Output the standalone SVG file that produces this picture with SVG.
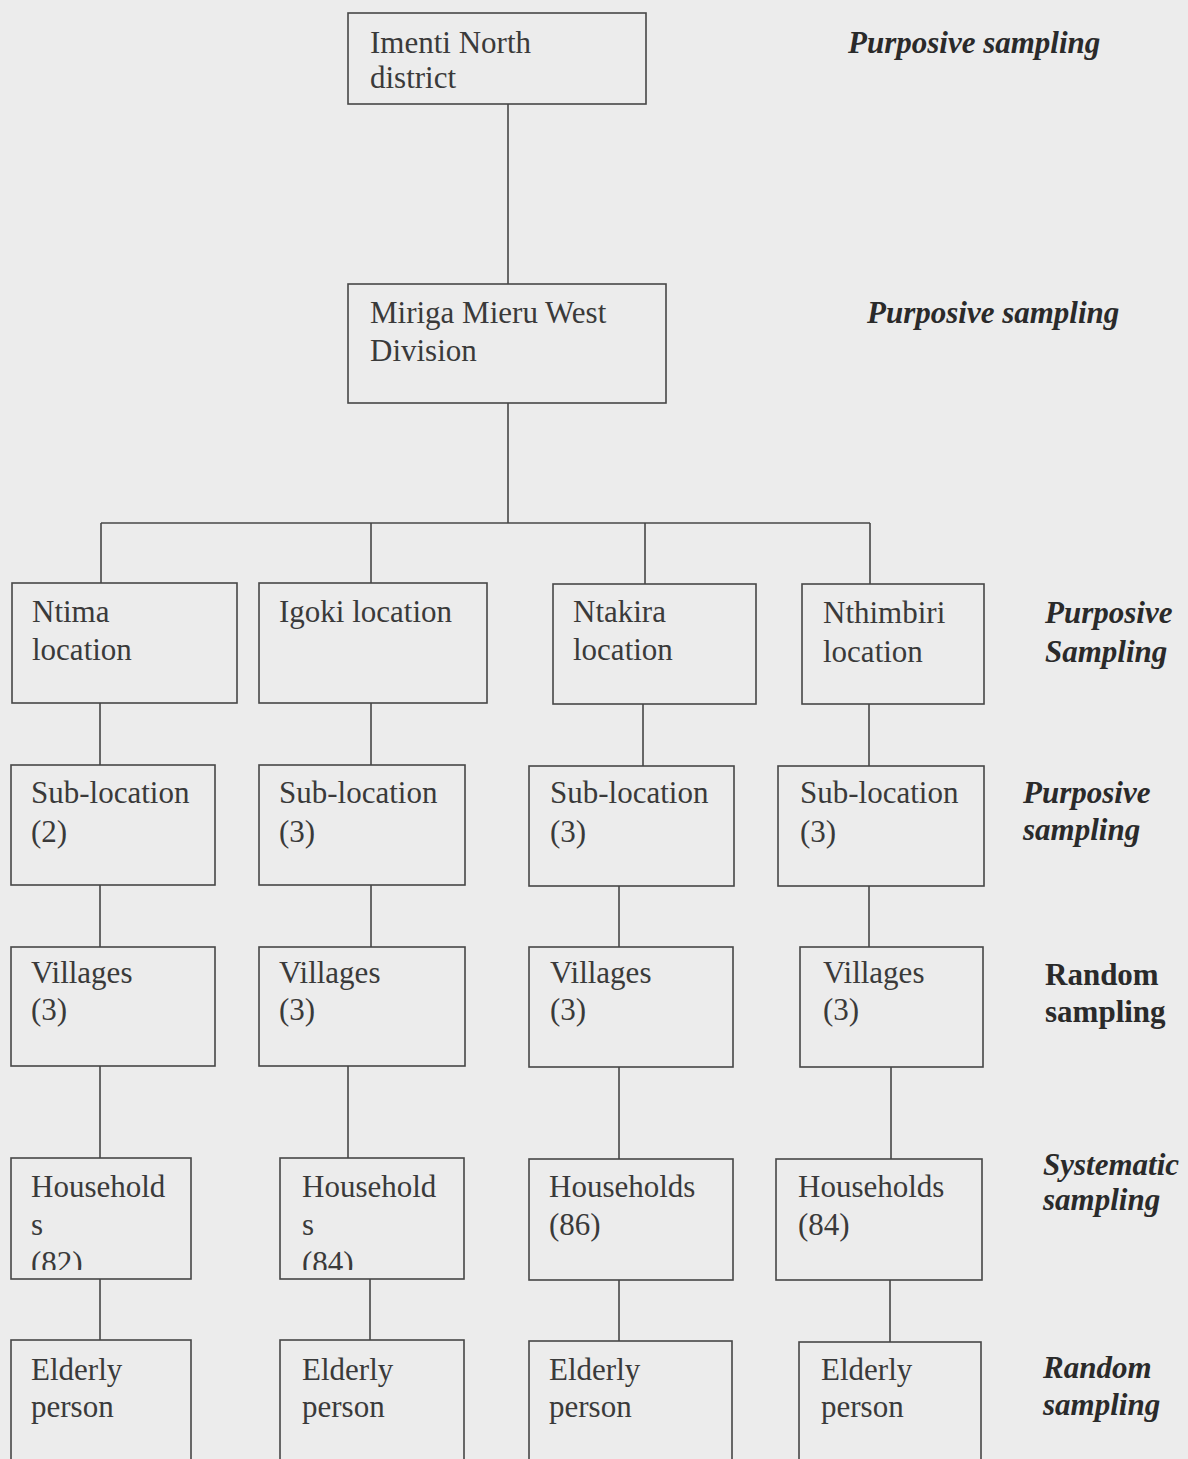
<svg xmlns="http://www.w3.org/2000/svg" width="1188" height="1459" viewBox="0 0 1188 1459">
<style>
.box{fill:none;stroke:#474747;stroke-width:1.6}
.t{font-family:"Liberation Serif","Times New Roman",serif;font-size:31px;fill:#3a3a3a}
.lbl{font-family:"Liberation Serif","Times New Roman",serif;font-size:31px;font-weight:bold;font-style:italic;fill:#2a2a2a}
.lblr{font-family:"Liberation Serif","Times New Roman",serif;font-size:31px;font-weight:bold;fill:#2a2a2a}
.c{stroke:#474747;stroke-width:1.6;fill:none}
</style>
<defs>
<clipPath id="clipF1"><rect x="11" y="1158" width="180" height="112"/></clipPath>
<clipPath id="clipF2"><rect x="280" y="1158" width="184" height="112"/></clipPath>
</defs>
<rect x="0" y="0" width="1188" height="1459" fill="#ececec"/>

<g id="connectors">
<path class="c" d="M508 104V284M508 403V523M101 523H870M101 523V583M371 523V583M645 523V584M870 523V584"/>
<path class="c" d="M100 703V765M371 703V765M643 704V766M869 704V766"/>
<path class="c" d="M100 885V947M371 885V947M619 886V947M869 886V947"/>
<path class="c" d="M100 1066V1158M348 1066V1158M619 1067V1159M891 1067V1159"/>
<path class="c" d="M100 1279V1340M370 1279V1340M619 1280V1341M890 1280V1342"/>
</g>

<g id="imenti"><rect class="box" x="348" y="13" width="298" height="91"/><text class="t" x="370" y="53">Imenti North</text><text class="t" x="370" y="88">district</text></g>
<g id="miriga"><rect class="box" x="348" y="284" width="318" height="119"/><text class="t" x="370" y="323">Miriga Mieru West</text><text class="t" x="370" y="361">Division</text></g>

<g id="ntima"><rect class="box" x="12" y="583" width="225" height="120"/><text class="t" x="32" y="622">Ntima</text><text class="t" x="32" y="660">location</text></g>
<g id="igoki"><rect class="box" x="259" y="583" width="228" height="120"/><text class="t" x="279" y="622">Igoki location</text></g>
<g id="ntakira"><rect class="box" x="553" y="584" width="203" height="120"/><text class="t" x="573" y="622">Ntakira</text><text class="t" x="573" y="660">location</text></g>
<g id="nthimbiri"><rect class="box" x="802" y="584" width="182" height="120"/><text class="t" x="823" y="623">Nthimbiri</text><text class="t" x="823" y="662">location</text></g>

<g id="sub1"><rect class="box" x="11" y="765" width="204" height="120"/><text class="t" x="31" y="803">Sub-location</text><text class="t" x="31" y="842">(2)</text></g>
<g id="sub2"><rect class="box" x="259" y="765" width="206" height="120"/><text class="t" x="279" y="803">Sub-location</text><text class="t" x="279" y="842">(3)</text></g>
<g id="sub3"><rect class="box" x="529" y="766" width="205" height="120"/><text class="t" x="550" y="803">Sub-location</text><text class="t" x="550" y="842">(3)</text></g>
<g id="sub4"><rect class="box" x="778" y="766" width="206" height="120"/><text class="t" x="800" y="803">Sub-location</text><text class="t" x="800" y="842">(3)</text></g>

<g id="vil1"><rect class="box" x="11" y="947" width="204" height="119"/><text class="t" x="31" y="983">Villages</text><text class="t" x="31" y="1020">(3)</text></g>
<g id="vil2"><rect class="box" x="259" y="947" width="206" height="119"/><text class="t" x="279" y="983">Villages</text><text class="t" x="279" y="1020">(3)</text></g>
<g id="vil3"><rect class="box" x="529" y="947" width="204" height="120"/><text class="t" x="550" y="983">Villages</text><text class="t" x="550" y="1020">(3)</text></g>
<g id="vil4"><rect class="box" x="800" y="947" width="183" height="120"/><text class="t" x="823" y="983">Villages</text><text class="t" x="823" y="1020">(3)</text></g>

<g id="hh1"><rect class="box" x="11" y="1158" width="180" height="121"/><g clip-path="url(#clipF1)"><text class="t" x="31" y="1197">Household</text><text class="t" x="31" y="1235">s</text><text class="t" x="31" y="1273">(82)</text></g></g>
<g id="hh2"><rect class="box" x="280" y="1158" width="184" height="121"/><g clip-path="url(#clipF2)"><text class="t" x="302" y="1197">Household</text><text class="t" x="302" y="1235">s</text><text class="t" x="302" y="1273">(84)</text></g></g>
<g id="hh3"><rect class="box" x="529" y="1159" width="204" height="121"/><text class="t" x="549" y="1197">Households</text><text class="t" x="549" y="1235">(86)</text></g>
<g id="hh4"><rect class="box" x="776" y="1159" width="206" height="121"/><text class="t" x="798" y="1197">Households</text><text class="t" x="798" y="1235">(84)</text></g>

<g id="eld1"><rect class="box" x="11" y="1340" width="180" height="130"/><text class="t" x="31" y="1380">Elderly</text><text class="t" x="31" y="1417">person</text></g>
<g id="eld2"><rect class="box" x="280" y="1340" width="184" height="130"/><text class="t" x="302" y="1380">Elderly</text><text class="t" x="302" y="1417">person</text></g>
<g id="eld3"><rect class="box" x="529" y="1341" width="203" height="130"/><text class="t" x="549" y="1380">Elderly</text><text class="t" x="549" y="1417">person</text></g>
<g id="eld4"><rect class="box" x="799" y="1342" width="182" height="130"/><text class="t" x="821" y="1380">Elderly</text><text class="t" x="821" y="1417">person</text></g>

<g id="labels">
<text class="lbl" x="848" y="53">Purposive sampling</text>
<text class="lbl" x="867" y="323">Purposive sampling</text>
<text class="lbl" x="1045" y="623">Purposive</text><text class="lbl" x="1045" y="662">Sampling</text>
<text class="lbl" x="1023" y="803">Purposive</text><text class="lbl" x="1023" y="840">sampling</text>
<text class="lblr" x="1045" y="985">Random</text><text class="lblr" x="1045" y="1022">sampling</text>
<text class="lbl" x="1043" y="1175">Systematic</text><text class="lbl" x="1043" y="1210">sampling</text>
<text class="lbl" x="1043" y="1378">Random</text><text class="lbl" x="1043" y="1415">sampling</text>
</g>
</svg>
